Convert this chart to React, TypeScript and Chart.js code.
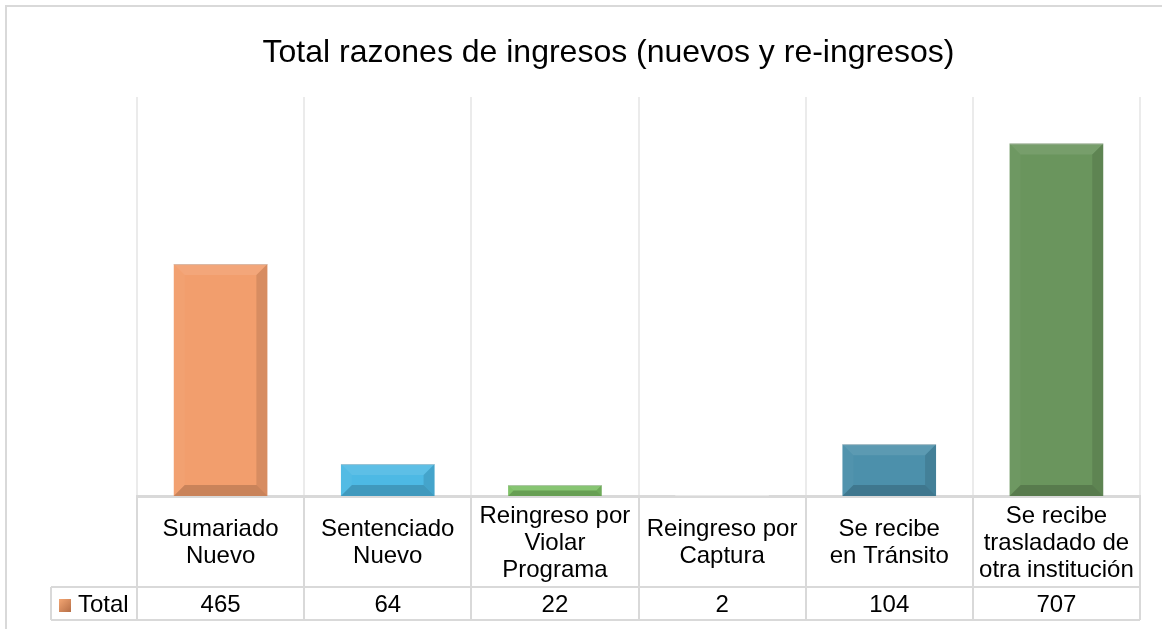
import React, { useEffect, useRef } from "react";
import { Chart, registerables } from "chart.js";

Chart.register(...registerables);

const TITLE = "Total razones de ingresos (nuevos y re-ingresos)";
const categories: string[][] = [
  ["Sumariado", "Nuevo"],
  ["Sentenciado", "Nuevo"],
  ["Reingreso por", "Violar", "Programa"],
  ["Reingreso por", "Captura"],
  ["Se recibe", "en Tránsito"],
  ["Se recibe", "trasladado de", "otra institución"],
];
const seriesName = "Total";
const values = [465, 64, 22, 2, 104, 707];
const barColors = ["#F29E6D", "#4DB9E4", "#7CC064", "#E8E8E8", "#4C90AB", "#6A955D"];
const yMax = 800;

const FONT = '"Liberation Sans", Arial, sans-serif';
const LINE_COLOR = "#d9d9d9";

const W = 1162;
const H = 629;
const TABLE_LABEL_BOTTOM = 587;
const TABLE_BOTTOM = 620;
const LEGEND_LEFT = 51;

const bevelPlugin = {
  id: "bevel",
  afterDatasetsDraw(chart: any) {
    const ctx = chart.ctx;
    const meta = chart.getDatasetMeta(0);
    meta.data.forEach((el: any) => {
      const p = el.getProps(["x", "y", "base", "width"], true);
      const l = p.x - p.width / 2;
      const r = p.x + p.width / 2;
      const t = Math.min(p.y, p.base);
      const bt = Math.max(p.y, p.base);
      const h = bt - t;
      if (h < 2) return;
      const b = Math.min(11, h / 2, p.width / 2);
      const poly = (pts: number[][], fill: string) => {
        ctx.beginPath();
        ctx.moveTo(pts[0][0], pts[0][1]);
        for (let i = 1; i < pts.length; i++) ctx.lineTo(pts[i][0], pts[i][1]);
        ctx.closePath();
        ctx.fillStyle = fill;
        ctx.fill();
      };
      ctx.save();
      poly([[l, t], [r, t], [r - b, t + b], [l + b, t + b]], "rgba(255,255,255,0.09)");
      poly([[l, t], [l + b, t + b], [l + b, bt - b], [l, bt]], "rgba(255,255,255,0.03)");
      poly([[r, t], [r, bt], [r - b, bt - b], [r - b, t + b]], "rgba(0,0,0,0.11)");
      poly([[l, bt], [r, bt], [r - b, bt - b], [l + b, bt - b]], "rgba(0,0,0,0.17)");
      ctx.strokeStyle = "rgba(200,200,200,0.6)";
      ctx.lineWidth = 1;
      ctx.beginPath();
      ctx.moveTo(l, t + 0.5);
      ctx.lineTo(r, t + 0.5);
      ctx.stroke();
      ctx.restore();
    });
  },
};

const framePlugin = {
  id: "frame",
  beforeDraw(chart: any) {
    const ctx = chart.ctx;
    ctx.save();
    ctx.fillStyle = "#ffffff";
    ctx.fillRect(0, 0, W, H);
    ctx.strokeStyle = LINE_COLOR;
    ctx.lineWidth = 2;
    ctx.beginPath();
    ctx.moveTo(6, H);
    ctx.lineTo(6, 6);
    ctx.lineTo(W, 6);
    ctx.stroke();
    ctx.fillStyle = "#000000";
    ctx.font = `32px ${FONT}`;
    ctx.textAlign = "center";
    ctx.textBaseline = "alphabetic";
    ctx.fillText(TITLE, 608.5, 62);
    ctx.restore();
  },
  afterDraw(chart: any) {
    const ctx = chart.ctx;
    const xs = chart.scales.x;
    const area = chart.chartArea;
    const n = chart.data.labels.length;
    const step = (area.right - area.left) / n;
    const axisY = area.bottom;
    ctx.save();
    ctx.strokeStyle = LINE_COLOR;
    ctx.lineWidth = 2;
    for (let i = 0; i <= n; i++) {
      const x = Math.round(area.left + i * step);
      ctx.beginPath();
      ctx.moveTo(x, axisY);
      ctx.lineTo(x, TABLE_BOTTOM);
      ctx.stroke();
    }
    ctx.beginPath();
    ctx.moveTo(LEGEND_LEFT, TABLE_LABEL_BOTTOM);
    ctx.lineTo(area.right, TABLE_LABEL_BOTTOM);
    ctx.moveTo(LEGEND_LEFT, TABLE_BOTTOM);
    ctx.lineTo(area.right, TABLE_BOTTOM);
    ctx.moveTo(LEGEND_LEFT, TABLE_LABEL_BOTTOM);
    ctx.lineTo(LEGEND_LEFT, TABLE_BOTTOM);
    ctx.stroke();

    const fs = 24;
    const cap = 0.68 * fs;
    ctx.font = `${fs}px ${FONT}`;
    ctx.fillStyle = "#000000";
    ctx.textAlign = "center";
    ctx.textBaseline = "alphabetic";
    const labelCenter = (axisY + TABLE_LABEL_BOTTOM) / 2;
    const valueCenter = (TABLE_LABEL_BOTTOM + TABLE_BOTTOM) / 2;
    const lh = 27;
    const data = chart.data.datasets[0].data;
    chart.data.labels.forEach((lab: string[], i: number) => {
      const cx = xs.getPixelForValue(i);
      const lines = Array.isArray(lab) ? lab : [lab];
      lines.forEach((ln, j) => {
        const y = labelCenter + (j - (lines.length - 1) / 2) * lh + cap / 2;
        ctx.fillText(ln, cx, y);
      });
      ctx.fillText(String(data[i]), cx, valueCenter + cap / 2);
    });

    const kx = 59, ky = 599, ks = 12;
    const g = ctx.createLinearGradient(kx, ky, kx + ks, ky + ks);
    g.addColorStop(0, "#F4A673");
    g.addColorStop(1, "#B87048");
    ctx.fillStyle = g;
    ctx.fillRect(kx, ky, ks, ks + 1);
    ctx.fillStyle = "#000000";
    ctx.textAlign = "left";
    ctx.fillText(chart.data.datasets[0].label, 78, valueCenter + cap / 2);
    ctx.restore();
  },
};

export default function App() {
  const ref = useRef<HTMLCanvasElement | null>(null);
  useEffect(() => {
    if (!ref.current) return;
    const chart = new Chart(ref.current, {
      type: "bar",
      data: {
        labels: categories,
        datasets: [
          {
            label: seriesName,
            data: values,
            backgroundColor: barColors,
            borderWidth: 0,
            categoryPercentage: 1,
            barPercentage: 0.56,
          },
        ],
      },
      options: {
        animation: false,
        responsive: false,
        devicePixelRatio: 1,
        layout: { padding: { left: 137, right: 22, top: 97, bottom: 133 } },
        plugins: {
          legend: { display: false },
          title: { display: false },
          tooltip: { enabled: false },
        },
        scales: {
          x: {
            type: "category",
            offset: true,
            z: 1,
            grid: { display: true, offset: true, color: "#ebebeb", lineWidth: 2, drawTicks: false },
            border: { display: true, color: LINE_COLOR, width: 3 },
            ticks: { display: false },
          },
          y: {
            display: false,
            min: 0,
            max: yMax,
          },
        },
      },
      plugins: [framePlugin, bevelPlugin],
    });
    return () => chart.destroy();
  }, []);
  return (
    <div style={{ position: "absolute", left: 0, top: 0, width: W, height: H }}>
      <canvas ref={ref} width={W} height={H} style={{ display: "block", width: W, height: H }} />
    </div>
  );
}
